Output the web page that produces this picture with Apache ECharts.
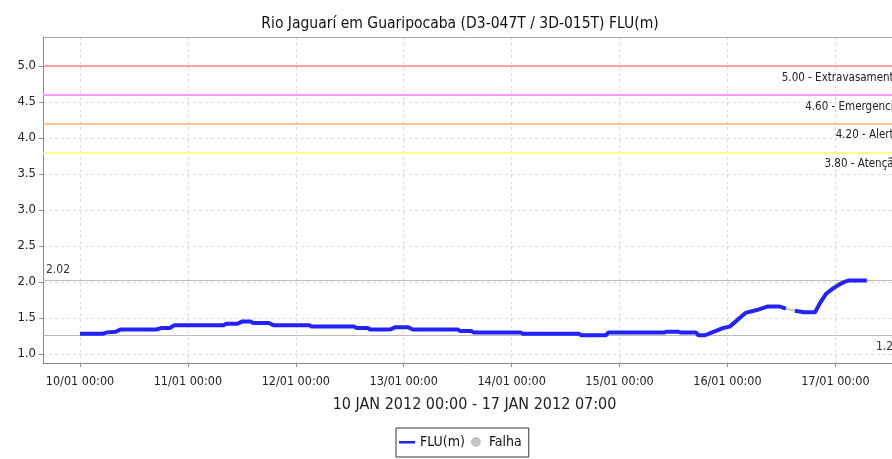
<!DOCTYPE html>
<html>
<head>
<meta charset="UTF-8">
<title>FLU(m)</title>
<script src="https://cdn.jsdelivr.net/npm/echarts@6/dist/echarts.min.js"></script>
<style>
  html, body { margin: 0; padding: 0; background: #fff; }
  #main { width: 892px; height: 459px; }
</style>
</head>
<body>
<div id="main"></div>
<script>
// horas desde 10/01/2012 00:00
var horas = [0, 5, 6, 8, 9, 17, 18, 20, 21, 32, 32.5, 35, 36, 38, 38.5, 42, 43, 51, 51.5, 61, 61.5, 64, 64.5, 69, 70, 73, 74, 84, 84.5, 87, 87.5, 98, 98.5, 111, 111.5, 117, 117.5, 130, 130.5, 133, 133.5, 137, 137.5, 139, 141, 143, 144.5, 146, 148, 150.5, 153, 155.5, 157, 158, 159, 161, 163.5, 164.5, 166, 167.5, 169, 170, 171, 175];
var nivel = [1.28, 1.28, 1.30, 1.31, 1.34, 1.34, 1.36, 1.36, 1.40, 1.40, 1.42, 1.42, 1.45, 1.45, 1.43, 1.43, 1.40, 1.40, 1.38, 1.38, 1.36, 1.36, 1.34, 1.34, 1.37, 1.37, 1.34, 1.34, 1.32, 1.32, 1.30, 1.30, 1.28, 1.28, 1.26, 1.26, 1.30, 1.30, 1.31, 1.31, 1.30, 1.30, 1.26, 1.26, 1.31, 1.36, 1.38, 1.46, 1.57, 1.61, 1.66, 1.66, 1.63, null, 1.60, 1.58, 1.58, 1.70, 1.84, 1.91, 1.97, 2.00, 2.02, 2.02];
var falhaHoras = [157, 159];
var falhaNivel = [1.63, 1.60];

var cotas = [5.0, 4.6, 4.2, 3.8];
var cotasNomes = ['Extravasamento', 'Emergencia', 'Alerta', 'Atenção'];
var cotasCores = ['#ff8080', '#ff99ff', '#ffb070', '#ffff66'];
var maximo = 2.02;
var minimo = 1.26;

var yTicks = [1.0, 1.5, 2.0, 2.5, 3.0, 3.5, 4.0, 4.5, 5.0];
var xTicks = [0, 24, 48, 72, 96, 120, 144, 168];

var fonte = '"DejaVu Sans Condensed", "DejaVu Sans", sans-serif';

function pares(xs, ys) {
    var out = [];
    for (var i = 0; i < xs.length; i++) out.push([xs[i], ys[i]]);
    return out;
}

var linhas = [];
for (var i = 0; i < cotas.length; i++) {
    linhas.push({
        yAxis: cotas[i],
        lineStyle: { color: cotasCores[i], width: i == 1 ? 2 : 1.5, type: 'solid' },
        label: {
            show: true,
            position: 'insideEndBottom',
            distance: [-8, 6],
            formatter: cotas[i].toFixed(2) + ' - ' + cotasNomes[i],
            color: '#222', fontSize: 11.5, fontFamily: fonte
        }
    });
}
linhas.push({
    yAxis: maximo,
    lineStyle: { color: '#bbbbbb', width: 1, type: 'solid' },
    label: { show: true, position: 'insideStartTop', distance: [3, 5], formatter: maximo.toFixed(2),
        color: '#333', fontSize: 12, fontFamily: fonte }
});
linhas.push({
    yAxis: minimo,
    lineStyle: { color: '#bbbbbb', width: 1, type: 'solid' },
    label: { show: true, position: 'insideEndBottom', distance: [-8, 6], formatter: minimo.toFixed(2),
        color: '#333', fontSize: 12, fontFamily: fonte }
});

var myChart = echarts.init(document.getElementById('main'));

option = {
    animation: false,
    backgroundColor: '#fff',
    textStyle: { fontFamily: fonte },
    title: {
        text: 'Rio Jaguarí em Guaripocaba (D3-047T / 3D-015T) FLU(m)',
        left: 455, top: 11, textAlign: 'center',
        textStyle: { fontSize: 15.5, fontWeight: 'normal', color: '#111', fontFamily: fonte }
    },
    legend: {
        left: 396, top: 428,
        borderColor: '#333', borderWidth: 1,
        padding: [7, 7, 8, 3],
        itemGap: 6, itemWidth: 16, itemHeight: 10,
        textStyle: { fontSize: 14, color: '#111', fontFamily: fonte, padding: [0, 0, 0, 0] },
        data: [
            { name: 'FLU(m)', icon: 'path://M0,0 L0.01,0 L0,0.01 Z M0,4 L16,4 L16,6.5 L0,6.5 Z M16,10 L15.99,10 L16,9.99 Z' },
            { name: 'Falha', icon: 'circle' }
        ]
    },
    grid: {
        left: 43, top: 37, right: 0, bottom: 96
    },
    xAxis: [{
        type: 'value',
        min: -8.23, max: 180.6,
        name: '10 JAN 2012 00:00 - 17 JAN 2012 07:00',
        nameLocation: 'middle', nameGap: 34,
        nameTextStyle: { fontSize: 16, color: '#222', fontFamily: fonte, padding: [0, 0, 0, 14] },
        axisLine: { onZero: false, lineStyle: { color: '#888' } },
        axisTick: { show: true, length: 4, customValues: xTicks, lineStyle: { color: '#888' } },
        axisLabel: {
            customValues: xTicks, margin: 12, fontSize: 12.5, color: '#222', fontFamily: fonte,
            formatter: function (v) {
                var d = 10 + Math.round(v / 24);
                return d + '/01 00:00';
            }
        },
        splitLine: { show: true, lineStyle: { color: '#dddddd', type: [3, 3] } }
    }, {
        type: 'value',
        position: 'top',
        min: -8.23, max: 180.6,
        axisLine: { show: true, onZero: false, lineStyle: { color: '#aaa' } },
        axisTick: { show: false },
        axisLabel: { show: false },
        splitLine: { show: false }
    }],
    yAxis: {
        type: 'value',
        min: 0.875, max: 5.4,
        axisLine: { show: true, onZero: false, lineStyle: { color: '#888' } },
        axisTick: { show: true, length: 4, customValues: yTicks, lineStyle: { color: '#888' } },
        axisLabel: {
            customValues: yTicks, margin: 7, fontSize: 13, color: '#222', fontFamily: fonte,
            formatter: function (v) { return v.toFixed(1); }
        },
        splitLine: { show: true, lineStyle: { color: '#dddddd', type: [3, 3] } }
    },
    series: [
        {
            name: 'FLU(m)',
            type: 'line',
            data: pares(horas, nivel),
            symbol: 'none',
            connectNulls: false,
            z: 5,
            itemStyle: { color: '#2222ff' },
            lineStyle: { color: '#2222ff', width: 4 },
            markLine: {
                silent: true,
                symbol: 'none',
                animation: false,
                z: 1,
                data: linhas
            }
        },
        {
            name: 'Falha',
            type: 'line',
            data: pares(falhaHoras, falhaNivel),
            symbol: 'none',
            z: 4,
            itemStyle: { color: '#c4c4c4' },
            lineStyle: { color: '#c8c8c8', width: 2 }
        }
    ]
};

myChart.setOption(option);
</script>
</body>
</html>
